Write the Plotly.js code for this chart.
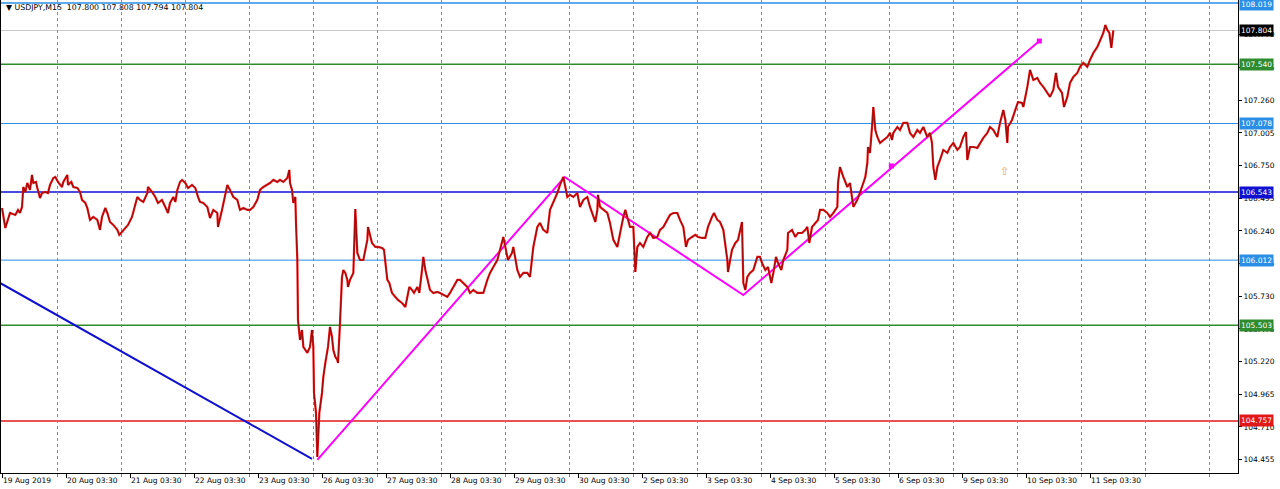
<!DOCTYPE html>
<html>
<head>
<meta charset="utf-8">
<script src="https://cdn.plot.ly/plotly-3.0.1.min.js"></script>
<style>html,body{margin:0;padding:0;background:#fff}#chart{width:1280px;height:489px}</style>
</head>
<body>
<div id="chart"></div>
<script>
// ---- data: M15 bar index (from 19 Aug 2019 00:00) and close price
const bars = [0,5,12,20,24,27,30,32,35,38,42,45,47,51,53,57,60,65,69,72,77,80,84,90,92,98,99,104,107,113,117,120,125,128,132,137,143,147,150,155,158,162,167,173,176,180,185,189,195,200,203,207,212,218,219,225,230,234,240,245,249,252,257,260,263,267,270,275,279,285,290,294,297,302,308,312,317,323,324,330,335,338,342,347,353,357,362,368,372,377,383,387,392,398,402,407,413,417,422,428,431,432,435,437,440,441,443,444,447,450,452,458,462,465,467,468,471,473,476,480,482,485,488,489,492,495,497,500,503,504,507,510,512,515,518,519,522,527,530,533,537,542,548,549,555,560,564,570,573,578,581,585,590,594,600,605,608,611,615,618,623,626,630,632,635,638,642,647,653,657,662,668,672,677,683,687,692,698,702,707,713,717,722,728,732,737,743,747,752,755,759,765,767,773,777,782,788,792,797,803,807,812,818,822,827,833,837,842,845,848,852,857,863,867,872,878,882,887,890,893,894,897,902,908,912,917,923,927,932,935,938,942,947,950,953,957,962,968,972,977,983,987,992,998,1002,1007,1013,1017,1022,1026,1029,1035,1040,1044,1050,1055,1059,1065,1068,1073,1077,1082,1085,1088,1089,1095,1100,1104,1110,1112,1115,1118,1122,1127,1133,1137,1140,1145,1149,1154,1157,1161,1164,1169,1172,1178,1179,1185,1190,1194,1200,1205,1208,1211,1215,1220,1224,1227,1232,1238,1242,1247,1253,1254,1257,1262,1268,1272,1277,1283,1287,1292,1295,1298,1299,1302,1305,1307,1310,1313,1317,1322,1328,1332,1335,1337,1343,1347,1352,1358,1362,1367,1373,1377,1382,1388,1392,1395,1397,1400,1403,1407,1412,1418,1422,1427,1433,1437,1442,1446,1448,1452,1457,1463,1467,1472,1478,1482,1487,1493,1497,1502,1505,1508,1509,1515,1520,1524,1530,1532,1538,1542,1547,1553,1557,1562,1568,1572,1577,1581,1584,1590,1593,1598,1602,1607,1613,1617,1622,1628,1632,1637,1643,1647,1652,1655,1658,1661,1664,1667];
const closes = [106.419,106.263,106.380,106.365,106.404,106.380,106.427,106.583,106.544,106.614,106.560,106.677,106.614,106.622,106.575,106.497,106.536,106.544,106.536,106.599,106.653,106.661,106.622,106.583,106.622,106.677,106.599,106.622,106.583,106.575,106.544,106.482,106.458,106.419,106.326,106.349,106.326,106.248,106.349,106.419,106.380,106.310,106.287,106.248,106.209,106.232,106.263,106.287,106.349,106.458,106.505,106.482,106.466,106.536,106.583,106.544,106.505,106.458,106.482,106.427,106.380,106.458,106.505,106.466,106.560,106.622,106.638,106.614,106.575,106.599,106.575,106.505,106.466,106.458,106.427,106.341,106.404,106.380,106.271,106.404,106.536,106.599,106.560,106.505,106.482,106.404,106.419,106.404,106.404,106.427,106.482,106.560,106.583,106.599,106.614,106.638,106.622,106.638,106.622,106.653,106.716,106.614,106.560,106.458,106.505,106.302,106.013,105.545,105.389,105.467,105.335,105.288,105.335,105.467,105.335,104.976,104.820,104.476,104.820,104.976,105.101,105.210,105.288,105.335,105.491,105.413,105.311,105.257,105.233,105.210,105.522,105.881,105.935,105.912,105.858,105.803,105.858,105.912,106.411,106.068,106.013,106.013,106.170,106.271,106.146,106.115,106.115,106.107,106.092,105.858,105.834,105.756,105.725,105.701,105.678,105.647,105.725,105.803,105.779,105.756,105.803,105.756,105.935,106.037,105.935,105.858,105.779,105.756,105.764,105.756,105.740,105.725,105.756,105.803,105.858,105.858,105.834,105.803,105.756,105.779,105.756,105.756,105.756,105.858,105.912,105.959,106.013,106.092,106.193,106.115,106.013,106.068,106.115,105.935,105.881,105.912,105.912,105.881,106.115,106.271,106.302,106.248,106.224,106.404,106.458,106.536,106.599,106.661,106.583,106.505,106.521,106.505,106.536,106.427,106.482,106.505,106.427,106.349,106.310,106.404,106.521,106.427,106.404,106.380,106.302,106.170,106.115,106.224,106.349,106.404,106.349,106.271,106.271,105.920,106.115,106.146,106.115,106.193,106.224,106.185,106.193,106.248,106.271,106.326,106.365,106.380,106.380,106.326,106.271,106.115,106.170,106.193,106.209,106.193,106.185,106.185,106.271,106.349,106.380,106.326,106.310,106.248,106.146,106.013,105.920,106.092,106.146,106.170,106.310,105.834,105.779,105.881,105.912,105.935,106.037,106.037,105.990,105.935,105.959,105.834,105.912,106.037,105.990,105.935,106.013,106.092,106.224,106.248,106.193,106.224,106.224,106.248,106.271,106.146,106.271,106.302,106.326,106.404,106.404,106.380,106.349,106.380,106.427,106.614,106.739,106.661,106.583,106.614,106.427,106.482,106.536,106.614,106.661,106.770,106.895,106.849,107.051,107.207,107.028,106.973,106.927,106.950,106.973,107.005,106.950,107.005,107.051,107.028,107.083,107.083,107.005,106.973,107.028,107.005,107.051,106.973,107.005,106.927,106.739,106.638,106.739,106.794,106.872,106.849,106.895,106.927,106.872,106.895,106.973,107.012,106.794,106.895,106.895,106.888,106.927,106.966,107.005,107.051,107.028,106.973,107.083,107.184,107.106,106.927,107.051,107.106,107.184,107.246,107.239,107.207,107.364,107.496,107.418,107.434,107.395,107.364,107.317,107.286,107.340,107.473,107.364,107.317,107.207,107.286,107.395,107.442,107.473,107.520,107.551,107.520,107.574,107.629,107.676,107.730,107.785,107.847,107.808,107.785,107.668,107.804];

// day labels on the time axis (one per trading day)
const dayLabels = ["19 Aug 2019","20 Aug 03:30","21 Aug 03:30","22 Aug 03:30","23 Aug 03:30","26 Aug 03:30","27 Aug 03:30","28 Aug 03:30","29 Aug 03:30","30 Aug 03:30","2 Sep 03:30","3 Sep 03:30","4 Sep 03:30","5 Sep 03:30","6 Sep 03:30","9 Sep 03:30","10 Sep 03:30","11 Sep 03:30"];
const barsPerDay = 96;

// price axis ticks
const priceTicks = [104.455,104.710,104.965,105.220,105.475,105.730,105.985,106.240,106.495,106.750,107.005,107.260,107.515,107.770];

// horizontal levels
const levels = [108.019,107.540,107.078,106.543,106.012,105.503,104.757];
const levelColors = ["#2a8ee6","#2e8b2e","#2a8ee6","#1010d0","#2a8ee6","#2e8b2e","#e01818"];
const levelWidths = [1.5,1.5,1,1.5,1,1.5,1.5];
const lastPrice = 107.804;

// trend lines
const blueLineBars = [-3,465];
const blueLinePrices = [105.834,104.461];
const zigBars = [473,844,1112,1556];
const zigPrices = [104.453,106.661,105.740,107.722];
const zigMarkBars = [1334,1556];
const zigMarkPrices = [106.747,107.722];
const arrowBar = [1504];
const arrowPrice = [106.700];

const FONT = "DejaVu Sans, Verdana, sans-serif";

const traces = [
  {x: blueLineBars, y: blueLinePrices, mode:'lines', line:{color:'#1010d0', width:2}, hoverinfo:'skip'},
  {x: zigBars, y: zigPrices, mode:'lines', line:{color:'#ff00ff', width:2}, hoverinfo:'skip'},
  {x: zigMarkBars, y: zigMarkPrices, mode:'markers', marker:{symbol:'square', size:5, color:'#ff00ff'}, hoverinfo:'skip'},
  {x: bars, y: closes, mode:'lines', line:{color:'#f01414', width:2.2}, hoverinfo:'skip'},
  {x: bars, y: closes, mode:'lines', line:{color:'#000000', width:0.6}, opacity:0.65, hoverinfo:'skip'},
  {x: arrowBar, y: arrowPrice, mode:'text', text:['⇧'], textfont:{color:'#f0a050', size:11, family:FONT}, hoverinfo:'skip'}
];

const shapes = levels.map((v,i)=>({type:'line', xref:'paper', x0:0, x1:1, yref:'y', y0:v, y1:v, layer:'below',
  line:{color:levelColors[i], width:levelWidths[i]}}));
shapes.push({type:'line', xref:'paper', x0:0, x1:1, yref:'y', y0:lastPrice, y1:lastPrice, layer:'below', line:{color:'#c8c8c8', width:1}});

const annotations = levels.map((v,i)=>({xref:'paper', x:1, xanchor:'left', xshift:1, yref:'y', y:v, yanchor:'middle',
  yshift: (i===0 ? -2 : 0),
  text:v.toFixed(3), showarrow:false, bgcolor:levelColors[i], borderpad:1, font:{family:FONT, size:7.5, color:'#ffffff'}}));
annotations.push({xref:'paper', x:1, xanchor:'left', xshift:1, yref:'y', y:lastPrice, yanchor:'middle',
  text:lastPrice.toFixed(3), showarrow:false, bgcolor:'#000000', borderpad:1, font:{family:FONT, size:7.5, color:'#ffffff'}});
annotations.push({xref:'paper', x:0, xanchor:'left', xshift:3, yref:'paper', y:1, yanchor:'top', yshift:-1,
  text:'▼ USDJPY,M15  107.800 107.808 107.794 107.804', showarrow:false, font:{family:FONT, size:7.8, color:'#000000'}});

const layout = {
  width:1280, height:489,
  margin:{l:1, r:42, t:0, b:16, pad:0},
  paper_bgcolor:'#ffffff', plot_bgcolor:'#ffffff',
  showlegend:false,
  xaxis:{
    range:[-1.5,1854], showgrid:false, zeroline:false,
    tickmode:'array', tickvals: dayLabels.map((_,i)=>i*barsPerDay), ticktext: dayLabels,
    ticks:'outside', ticklen:4, tickcolor:'#000', ticklabelposition:'outside right',
    tickfont:{family:FONT, size:7.5, color:'#000'},
    showline:true, linecolor:'#000', linewidth:1,
    minor:{tickmode:'linear', tick0:83, dtick:barsPerDay, showgrid:true, gridcolor:'#8a8a8a', griddash:'dot', gridwidth:1, ticks:'outside', ticklen:3, tickcolor:'#8a8a8a'}
  },
  yaxis:{
    range:[104.351,108.042], side:'right', showgrid:false, zeroline:false,
    tickmode:'array', tickvals:priceTicks, ticktext:priceTicks.map(v=>v.toFixed(3)),
    ticks:'outside', ticklen:3, tickcolor:'#000',
    tickfont:{family:FONT, size:7.5, color:'#000'},
    showline:true, linecolor:'#000', linewidth:1, mirror:true
  },
  shapes: shapes,
  annotations: annotations
};

Plotly.newPlot('chart', traces, layout, {staticPlot:true, displayModeBar:false});
</script>
</body>
</html>
